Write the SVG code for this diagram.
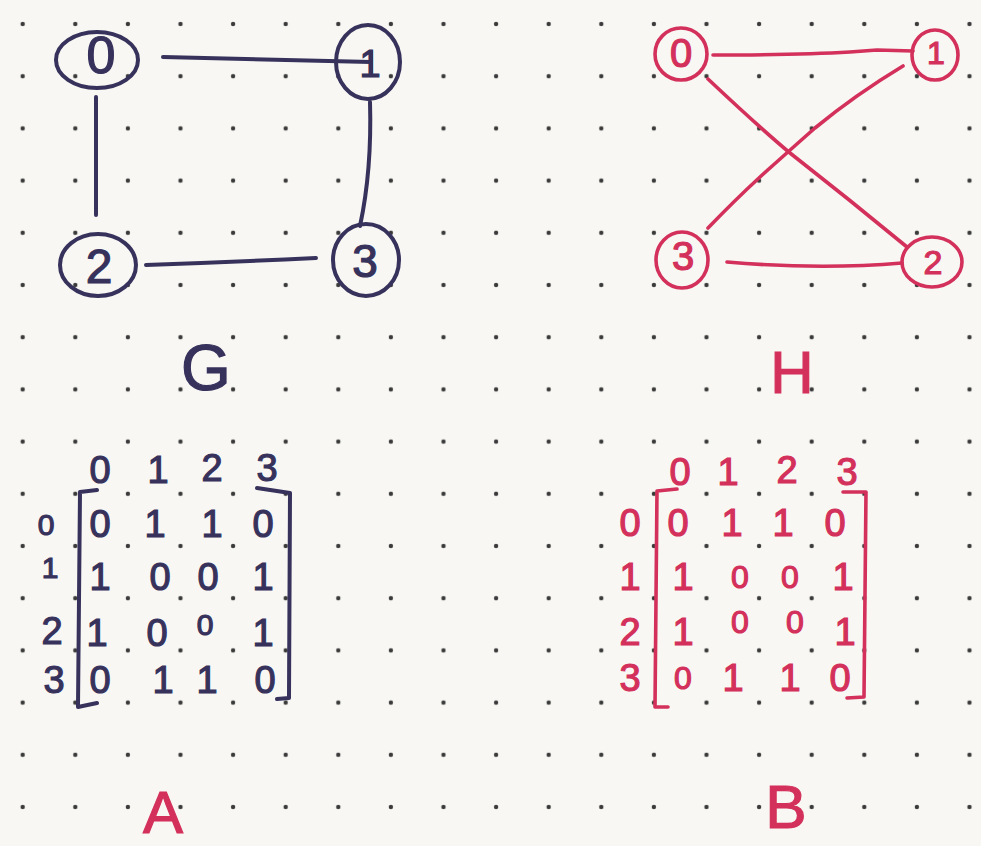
<svg xmlns="http://www.w3.org/2000/svg" width="981" height="846" viewBox="0 0 981 846">
<defs>
<pattern id="dots" x="22.7" y="24" width="52.6" height="52.2" patternUnits="userSpaceOnUse">
<circle cx="0" cy="0" r="2.2" fill="#3a3a3a"/>
<circle cx="52.6" cy="0" r="2.2" fill="#3a3a3a"/>
<circle cx="0" cy="52.2" r="2.2" fill="#3a3a3a"/>
<circle cx="52.6" cy="52.2" r="2.2" fill="#3a3a3a"/>
</pattern>
</defs>
<style>
.g{fill:none;stroke:#37325c;stroke-width:4;stroke-linecap:round;stroke-linejoin:round}
.h{fill:none;stroke:#d3305b;stroke-width:3.6;stroke-linecap:round;stroke-linejoin:round}
.tg{fill:#37325c;stroke:#37325c;stroke-width:1.2;font-family:"Liberation Sans",Arial,sans-serif;text-anchor:middle;dominant-baseline:central}
.th{fill:#d3305b;stroke:#d3305b;stroke-width:1.2;font-family:"Liberation Sans",Arial,sans-serif;text-anchor:middle;dominant-baseline:central}
.m{font-size:38px}
</style>
<rect width="981" height="846" fill="#f8f7f3"/>
<rect x="0" y="0" width="981" height="846" fill="url(#dots)"/>

<g id="connectors">
<path class="g" d="M163 57 L371 62 M371 62 L371 52 M371 62 L371 74"/>
<path class="g" d="M96 97 L96 215"/>
<path class="g" d="M370 102 Q372 170 360 226"/>
<path class="g" d="M146 265 Q230 262 316 258"/>
<path class="h" d="M713 55 Q800 55 850 52 L877 50 L913 51"/>
<path class="h" d="M708 79 Q760 128 790 153 Q850 200 907 247"/>
<path class="h" d="M903 66 Q855 95 815 128 Q790 150 760 177 Q735 200 708 228"/>
<path class="h" d="M727 262 Q820 270 902 263"/>
</g>

<g id="G-node-0"><ellipse class="g" cx="97" cy="60" rx="41" ry="28"/><text class="tg" x="101" y="55" font-size="52">0</text></g>
<g id="G-node-1"><ellipse class="g" cx="368" cy="62" rx="32" ry="37"/><text class="tg" x="370" y="64" font-size="38">1</text></g>
<g id="G-node-2"><ellipse class="g" cx="98" cy="265" rx="38" ry="31"/><text class="tg" x="99" y="266" font-size="48">2</text></g>
<g id="G-node-3"><ellipse class="g" cx="366" cy="260" rx="33" ry="36"/><text class="tg" x="365" y="261" font-size="46">3</text></g>

<g id="H-node-0"><ellipse class="h" cx="681" cy="54" rx="26" ry="26"/><text class="th" x="681" y="53" font-size="40">0</text></g>
<g id="H-node-1"><ellipse class="h" cx="935" cy="55" rx="23" ry="25"/><text class="th" x="936" y="53" font-size="32">1</text></g>
<g id="H-node-2"><ellipse class="h" cx="932" cy="262" rx="30" ry="25"/><text class="th" x="933" y="262" font-size="34">2</text></g>
<g id="H-node-3"><ellipse class="h" cx="682" cy="260" rx="26" ry="28"/><text class="th" x="683" y="256" font-size="40">3</text></g>

<g id="label-G"><text class="tg" x="206" y="368" font-size="64">G</text></g>
<g id="label-H"><text class="th" x="792" y="372" font-size="60">H</text></g>

<g id="matrix-A">
<path class="g" d="M97 490 L80 492 L78 707 L97 703"/>
<path class="g" d="M257 488 L290 493 L289 698 L277 699"/>
<g class="tg m">
<text x="100" y="470">0</text><text x="158" y="470">1</text><text x="212" y="468">2</text><text x="267" y="468">3</text>
<text x="46" y="524" font-size="30">0</text><text x="50" y="567" font-size="30">1</text><text x="52" y="631">2</text><text x="54" y="680">3</text>
<text x="100" y="524">0</text><text x="155" y="524">1</text><text x="212" y="524">1</text><text x="263" y="524">0</text>
<text x="100" y="577">1</text><text x="160" y="577">0</text><text x="208" y="577">0</text><text x="263" y="577">1</text>
<text x="97" y="633">1</text><text x="157" y="633">0</text><text x="205" y="624" font-size="30">0</text><text x="263" y="633">1</text>
<text x="100" y="680">0</text><text x="163" y="680">1</text><text x="207" y="680">1</text><text x="265" y="680">0</text>
</g>
</g>

<g id="matrix-B">
<path class="h" d="M677 489 L657 491 L655 707 L668 707"/>
<path class="h" d="M843 492 L866 492 L864 697 L847 698"/>
<g class="th m">
<text x="680" y="472">0</text><text x="728" y="472">1</text><text x="787" y="470">2</text><text x="847" y="472">3</text>
<text x="630" y="523">0</text><text x="630" y="577">1</text><text x="630" y="632">2</text><text x="630" y="678">3</text>
<text x="678" y="523">0</text><text x="732" y="523">1</text><text x="783" y="523">1</text><text x="835" y="523">0</text>
<text x="683" y="577">1</text><text x="740" y="577" font-size="32">0</text><text x="790" y="577" font-size="32">0</text><text x="843" y="577">1</text>
<text x="683" y="632">1</text><text x="740" y="622" font-size="32">0</text><text x="795" y="622" font-size="32">0</text><text x="845" y="632">1</text>
<text x="683" y="678" font-size="32">0</text><text x="733" y="678">1</text><text x="790" y="678">1</text><text x="840" y="678">0</text>
</g>
</g>

<g id="label-A"><text class="th" x="163" y="812" font-size="60">A</text></g>
<g id="label-B"><text class="th" x="786" y="806" font-size="62">B</text></g>
</svg>
